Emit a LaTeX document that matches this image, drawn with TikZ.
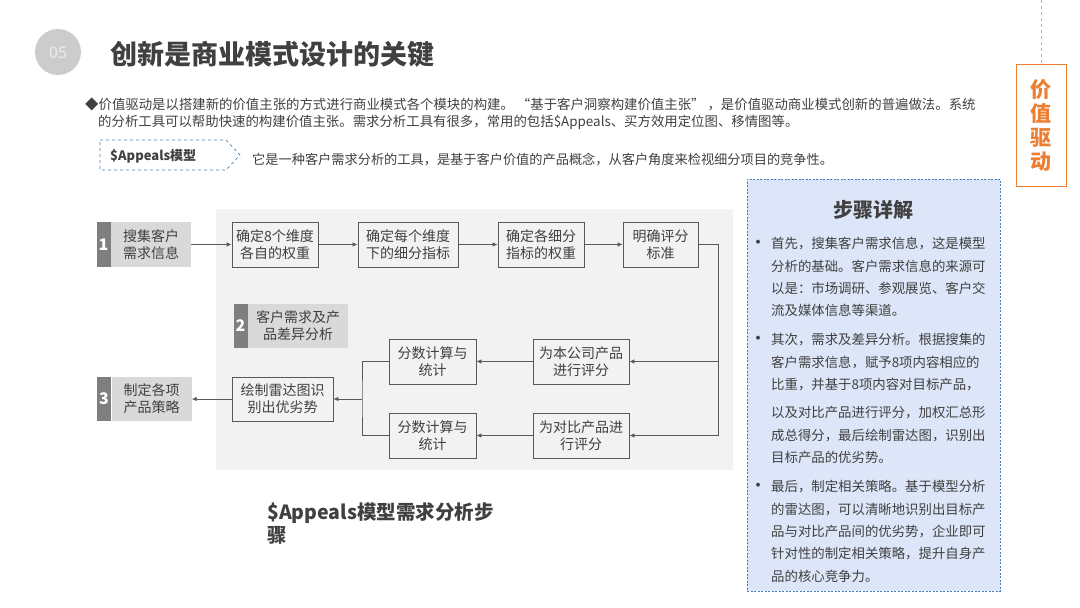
\documentclass[tikz,border=0pt]{standalone}
\usepackage{fontspec}
\setmainfont{Noto Sans CJK SC}
\usetikzlibrary{arrows.meta,positioning}
\definecolor{txtDark}{HTML}{404040}
\definecolor{boxLine}{HTML}{595959}
\definecolor{panelGrey}{HTML}{F2F2F2}
\definecolor{tabDark}{HTML}{7F7F7F}
\definecolor{tabLight}{HTML}{D9D9D9}
\definecolor{noteBlue}{HTML}{4A7EBB}
\definecolor{noteFill}{HTML}{DCE6F8}
\definecolor{accOrange}{HTML}{ED7D31}

\begin{document}
\begin{tikzpicture}[x=1pt,y=-1pt,
  font=\fontsize{13.4}{16}\selectfont,text=txtDark,
  >={Latex[length=5pt,width=4.5pt]},
  stepbox/.style={draw=boxLine,line width=0.8pt,fill=panelGrey,minimum height=45pt,
                  align=center,inner sep=2pt,font=\fontsize{14}{17}\selectfont},
  tablbl/.style={fill=tabLight,minimum height=45pt,align=center,inner sep=0pt,
                 font=\fontsize{14}{17}\selectfont},
  tabnum/.style={fill=tabDark,text=white,minimum width=14pt,minimum height=45pt,
                 inner sep=0pt,font=\fontsize{16}{16}\selectfont\bfseries},
  flow/.style={->,boxLine,line width=0.8pt},
  dot/.style={font=\fontsize{14}{14}\selectfont\bfseries,inner sep=0pt},
  note/.style={anchor=north west,align=left,inner sep=0pt,font=\fontsize{13.4}{22.3}\selectfont}
]
\useasboundingbox (0,0) rectangle (1080,608);

% header
\fill[black!20] (58,52) circle (23);
\node[text=black!8,font=\fontsize{16}{16}\selectfont] (secNum) at (58,53) {05};
\node[anchor=west,font=\fontsize{27}{27}\selectfont\bfseries] (title) at (107,54) {创新是商业模式设计的关键};

% side tag
\coordinate (tagTop) at (1041,0);
\node[draw=accOrange,line width=0.8pt,fill=white,minimum width=50pt,minimum height=122pt,
      text=accOrange,align=center,font=\fontsize{21}{24}\selectfont\bfseries] (tag) at (1041,125) {价\\值\\驱\\动};
\draw[accOrange!70,dashed,line width=0.6pt] (tagTop) -- (tag.north);

% intro text
\node[anchor=west,inner sep=0pt] (para1) at (85,104) {◆价值驱动是以搭建新的价值主张的方式进行商业模式各个模块的构建。 “基于客户洞察构建价值主张” ，是价值驱动商业模式创新的普遍做法。系统};
\node[anchor=west,inner sep=0pt] (para2) at (98,122) {的分析工具可以帮助快速的构建价值主张。需求分析工具有很多，常用的包括\$Appeals、买方效用定位图、移情图等。};

\draw[noteBlue,dashed,line width=0.7pt] (100,140) -- (226,140) -- (240,155) -- (226,170) -- (100,170) -- cycle;
\node[anchor=west,inner sep=0pt,font=\fontsize{13}{13}\selectfont\bfseries] (apTag) at (110,156) {\$Appeals模型};
\node[anchor=west,inner sep=0pt,font=\fontsize{13.2}{16}\selectfont] (apDesc) at (252,160) {它是一种客户需求分析的工具，是基于客户价值的产品概念，从客户角度来检视细分项目的竞争性。};

% flow chart
\node[fill=panelGrey,minimum width=517pt,minimum height=261pt,inner sep=0pt] (panel) at (474.5,339.5) {};

\node[tablbl,minimum width=80pt] (lbl1) at (151,244.5) {搜集客户\\需求信息};
\node[tabnum,left=0pt of lbl1] (tab1) {1};
\node[stepbox,minimum width=86pt] (s1) at (275,244.5) {确定8个维度\\各自的权重};
\node[stepbox,minimum width=100pt] (s2) at (408,244.5) {确定每个维度\\下的细分指标};
\node[stepbox,minimum width=86pt] (s3) at (541,244.5) {确定各细分\\指标的权重};
\node[stepbox,minimum width=75pt] (s4) at (660.5,244.5) {明确评分\\标准};

\node[tablbl,minimum width=100pt,minimum height=44pt] (lbl2) at (298,326) {客户需求及产\\品差异分析};
\node[tabnum,minimum height=44pt,left=0pt of lbl2] (tab2) {2};

\node[stepbox,minimum width=96pt] (own) at (581,361.5) {为本公司产品\\进行评分};
\node[stepbox,minimum width=96pt] (cmp) at (581,435.5) {为对比产品进\\行评分};
\node[stepbox,minimum width=87pt] (sumA) at (432.5,361.5) {分数计算与\\统计};
\node[stepbox,minimum width=87pt] (sumB) at (432.5,435.5) {分数计算与\\统计};
\node[stepbox,minimum width=101pt,minimum height=44pt] (radar) at (282.5,399) {绘制雷达图识\\别出优劣势};

\node[tablbl,minimum width=80pt,minimum height=44pt] (lbl3) at (151.5,399) {制定各项\\产品策略};
\node[tabnum,minimum height=44pt,left=0pt of lbl3] (tab3) {3};

\draw[flow] (lbl1) -- (s1);
\draw[flow] (s1) -- (s2);
\draw[flow] (s2) -- (s3);
\draw[flow] (s3) -- (s4);
\coordinate (bus) at (718,244.5);
\draw[flow] (s4) -- (bus) |- (cmp);
\draw[flow] (bus |- own) -- (own);
\draw[flow] (own) -- (sumA);
\draw[flow] (cmp) -- (sumB);
\coordinate (join) at (362,399);
\draw[boxLine,line width=0.8pt] (sumA) -| (join) |- (sumB);
\draw[flow] (join) -- (radar);
\draw[flow] (radar) -- (lbl3);

\node[anchor=north west,align=left,inner sep=0pt,font=\fontsize{19.5}{23}\selectfont\bfseries] (caption) at (267,502) {\$Appeals模型需求分析步\\骤};

% step notes
\node[draw=noteBlue,dash pattern=on 2pt off 1.5pt,fill=noteFill,minimum width=253pt,minimum height=412pt,inner sep=0pt] (steps) at (873.5,385) {};
\node[font=\fontsize{20}{20}\selectfont\bfseries] (stepsTitle) at (873,210) {步骤详解};
\node[dot] (dot1) at (758,244) {•};
\node[dot] (dot2) at (758,340) {•};
\node[dot] (dot3) at (758,487) {•};
\node[note] (note1) at (771,237.3) {首先，搜集客户需求信息，这是模型\\分析的基础。客户需求信息的来源可\\以是：市场调研、参观展览、客户交\\流及媒体信息等渠道。};
\node[note] (note2) at (771,333.3) {其次，需求及差异分析。根据搜集的\\客户需求信息，赋予8项内容相应的\\比重，并基于8项内容对目标产品，};
\node[note] (note2b) at (771,406.3) {以及对比产品进行评分，加权汇总形\\成总得分，最后绘制雷达图，识别出\\目标产品的优劣势。};
\node[note] (note3) at (771,480.3) {最后，制定相关策略。基于模型分析\\的雷达图，可以清晰地识别出目标产\\品与对比产品间的优劣势，企业即可\\针对性的制定相关策略，提升自身产\\品的核心竞争力。};
\end{tikzpicture}
\end{document}
